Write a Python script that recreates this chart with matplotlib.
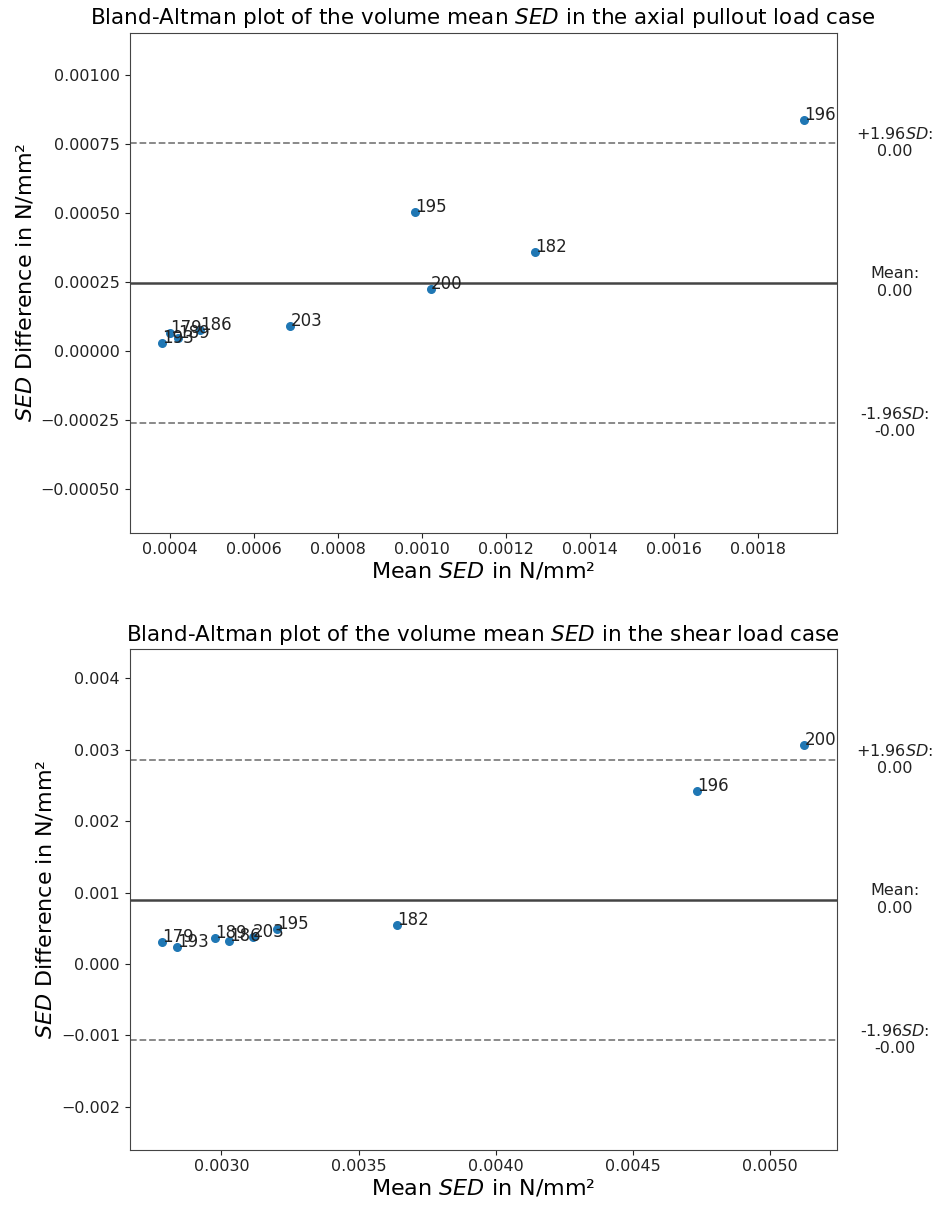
import numpy as np
import matplotlib
matplotlib.use('Agg')
from matplotlib import pyplot as plt

# specimen ids, same order in both load cases
ids = ['179', '182', '186', '189', '193', '195', '196', '200', '203']

# axial pullout: mean of both SED values and their difference (N/mm^2)
axial_mean = [0.000400, 0.001270, 0.000472, 0.000419, 0.000381,
              0.000983, 0.001910, 0.001021, 0.000687]
axial_diff = [0.0000645, 0.000358, 0.0000752, 0.0000466, 0.0000287,
              0.000505, 0.000838, 0.000226, 0.0000895]

# shear load case
shear_mean = [0.002783, 0.003641, 0.003027, 0.002977, 0.002838,
              0.003202, 0.004735, 0.005126, 0.003114]
shear_diff = [0.000300, 0.000540, 0.000324, 0.000356, 0.000240,
              0.000494, 0.002420, 0.003070, 0.000370]

FS_TICK = 11.5
FS_ANNOT = 12
FS_LABEL = 16
FS_TITLE = 15.5


def bland_altman(ax, mean, diff, title):
    mean = np.asarray(mean)
    diff = np.asarray(diff)
    md = np.mean(diff)
    sd = np.std(diff)

    ax.scatter(mean, diff, s=30, color='tab:blue', zorder=3)
    for i, lab in enumerate(ids):
        ax.annotate(lab, (mean[i], diff[i]), fontsize=FS_ANNOT, color='#222222')

    ax.axhline(md, color='#444444', lw=1.8)
    ax.axhline(md + 1.96 * sd, color='gray', ls='--', lw=1.3)
    ax.axhline(md - 1.96 * sd, color='gray', ls='--', lw=1.3)
    ax.set_ylim(md - 3.5 * sd, md + 3.5 * sd)

    trans = ax.get_yaxis_transform()
    ax.text(1.082, md + 1.96 * sd, '+1.96$SD$:\n%.2f' % (md + 1.96 * sd),
            transform=trans, ha='center', va='center', fontsize=FS_TICK, color='#222222')
    ax.text(1.082, md, 'Mean:\n%.2f' % md,
            transform=trans, ha='center', va='center', fontsize=FS_TICK, color='#222222')
    ax.text(1.082, md - 1.96 * sd, '-1.96$SD$:\n%.2f' % (md - 1.96 * sd),
            transform=trans, ha='center', va='center', fontsize=FS_TICK, color='#222222')

    ax.set_title(title, fontsize=FS_TITLE, pad=6)
    ax.set_xlabel('Mean $SED$ in N/mm²', fontsize=FS_LABEL, labelpad=2)
    ax.set_ylabel('$SED$ Difference in N/mm²', fontsize=FS_LABEL)
    ax.tick_params(labelsize=FS_TICK, colors='#222222')
    for sp in ax.spines.values():
        sp.set_color('#444444')


fig = plt.figure(figsize=(9.4, 12.05), dpi=100)
ax1 = fig.add_axes([0.138, 0.558, 0.752, 0.415])
ax2 = fig.add_axes([0.138, 0.046, 0.752, 0.415])

bland_altman(ax1, axial_mean, axial_diff,
             'Bland-Altman plot of the volume mean $SED$ in the axial pullout load case')
bland_altman(ax2, shear_mean, shear_diff,
             'Bland-Altman plot of the volume mean $SED$ in the shear load case')

fig.savefig('out.png', dpi=100)
